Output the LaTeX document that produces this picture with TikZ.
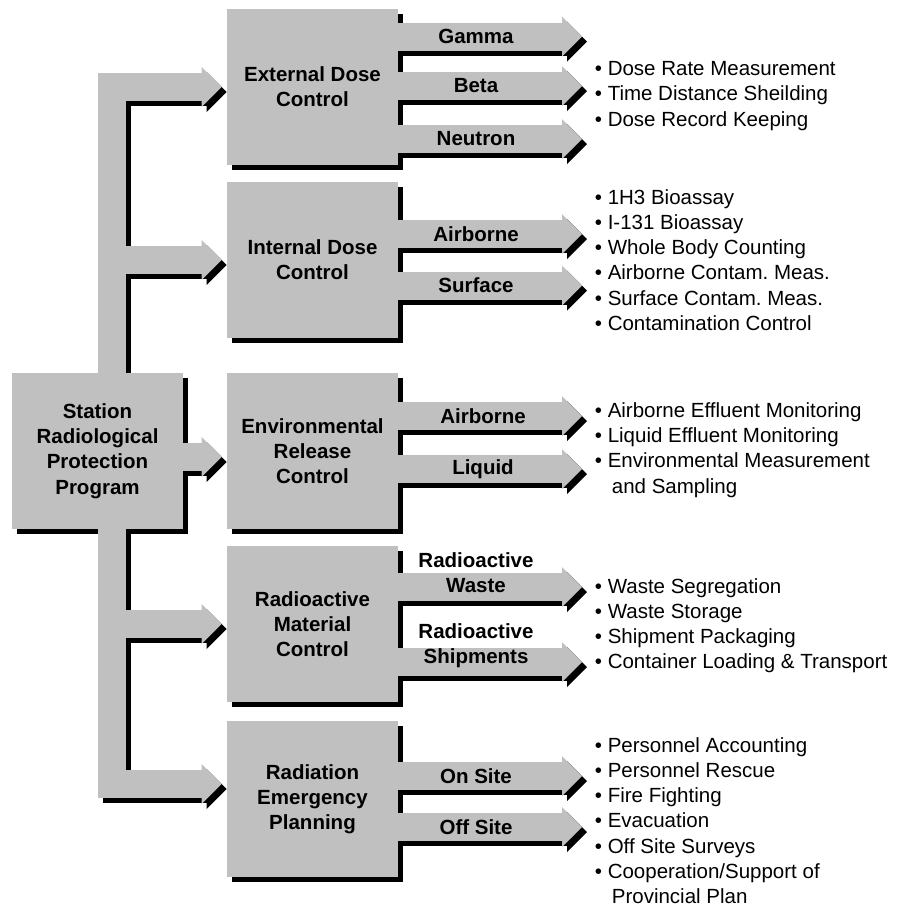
\documentclass[tikz,border=0pt]{standalone}
\usepackage{fontspec}
\setmainfont{Liberation Sans}
\usetikzlibrary{arrows.meta}

\definecolor{boxgray}{RGB}{192,192,192}
\newcommand{\chartfont}{\fontsize{10.25}{12.6}\selectfont\frenchspacing}

\pgfdeclarelayer{shadowlayer}
\pgfdeclarelayer{edgelayer}
\pgfdeclarelayer{nodelayer}
\pgfsetlayers{shadowlayer,edgelayer,nodelayer,main}
\tikzstyle{none}=[inner sep=0pt]
\tikzstyle{unit_box}=[rectangle,fill=boxgray,minimum width=85.5pt,minimum height=78pt,inner sep=0pt,align=center,font=\chartfont\bfseries]
\tikzstyle{box_shadow}=[fill=black]
\tikzstyle{flow_label}=[inner sep=0pt,align=center,font=\chartfont\bfseries]
\tikzstyle{item_list}=[inner sep=0pt,anchor=west,align=left,font=\chartfont]
\tikzstyle{flow}=[line width=14pt,->]
\tikzstyle{trunk}=[line width=14pt,<->,shorten <=2.5pt,shorten >=2.5pt]
\tikzset{>={Triangle[length=10pt,width=20pt,line width=0pt]}}

% connectors, drawn once as shadow and once in gray
\newcommand{\flowedges}{%
	\draw [style=trunk] (1.west) -- (6) -- (7) -- (5.west |- 7);
	\draw [style=flow, shorten >=2.5pt] (2.west -| 6) to (2.west);
	\draw [style=flow, shorten >=2.5pt] ([yshift=-3pt]0.east) to ([yshift=-3pt]3.west);
	\draw [style=flow, shorten >=2.5pt] (4.west -| 6) to (4.west);
	\draw [style=flow] (1.east |- 8) to (8);
	\draw [style=flow] (1.east |- 9) to (9);
	\draw [style=flow] (1.east |- 10) to (10);
	\draw [style=flow] (2.east |- 11) to (11);
	\draw [style=flow] (2.east |- 12) to (12);
	\draw [style=flow] (3.east |- 13) to (13);
	\draw [style=flow] (3.east |- 14) to (14);
	\draw [style=flow] (4.east |- 15) to (15);
	\draw [style=flow] (4.east |- 16) to (16);
	\draw [style=flow] (5.east |- 17) to (17);
	\draw [style=flow] (5.east |- 18) to (18);
}

\begin{document}
\begin{tikzpicture}[x=0.5pt,y=-0.5pt]
	\useasboundingbox (0, 0) rectangle (898, 907);
	\begin{pgfonlayer}{nodelayer}
		\node [style={unit_box}] (0) at (97.5, 451) {Station\\Radiological\\Protection\\Program};
		\node [style={unit_box}] (1) at (312.5, 87) {External Dose\\Control};
		\node [style={unit_box}] (2) at (312.5, 260) {Internal Dose\\Control};
		\node [style={unit_box}] (3) at (312.5, 451) {Environmental\\Release\\Control};
		\node [style={unit_box}] (4) at (312.5, 624) {Radioactive\\Material\\Control};
		\node [style={unit_box}] (5) at (312.5, 799) {Radiation\\Emergency\\Planning};
		\coordinate (6) at (112, 87);
		\coordinate (7) at (112, 784);
		\coordinate (8) at (582, 36.5);
		\coordinate (9) at (582, 86);
		\coordinate (10) at (582, 139);
		\coordinate (11) at (582, 234);
		\coordinate (12) at (582, 285.5);
		\coordinate (13) at (582, 416);
		\coordinate (14) at (582, 469);
		\coordinate (15) at (582, 587);
		\coordinate (16) at (582, 662);
		\coordinate (17) at (582, 776);
		\coordinate (18) at (582, 827);
	\end{pgfonlayer}
	\begin{pgfonlayer}{shadowlayer}
		\foreach \n in {0,...,5}
			\fill [style={box_shadow}] ([shift={(5, 5)}]\n.south west) rectangle ([shift={(5, 5)}]\n.north east);
		\begin{scope}[transform canvas={shift={(2.5pt, -2.5pt)}}, color=black]
			\flowedges
		\end{scope}
	\end{pgfonlayer}
	\begin{pgfonlayer}{edgelayer}
		\begin{scope}[color=boxgray]
			\flowedges
		\end{scope}
	\end{pgfonlayer}
	\node [style={flow_label}] (19) at (476, 36.5) {Gamma};
	\node [style={flow_label}] (20) at (476, 86) {Beta};
	\node [style={flow_label}] (21) at (476, 139) {Neutron};
	\node [style={flow_label}] (22) at (476, 234) {Airborne};
	\node [style={flow_label}] (23) at (476, 285.5) {Surface};
	\node [style={flow_label}] (24) at (483, 416) {Airborne};
	\node [style={flow_label}] (25) at (483, 469) {Liquid};
	\node [style={flow_label}] (26) at (476, 572.5) {Radioactive\\Waste};
	\node [style={flow_label}] (27) at (476, 646) {Radioactive\\Shipments};
	\node [style={flow_label}] (28) at (476, 776) {On Site};
	\node [style={flow_label}] (29) at (476, 827) {Off Site};
	\node [style={item_list}] (30) at (594.5, 96) {\textbullet\ Dose Rate Measurement\\\textbullet\ Time Distance Sheilding\\\textbullet\ Dose Record Keeping};
	\node [style={item_list}] (31) at (594.5, 260) {\textbullet\ 1H3 Bioassay\\\textbullet\ I-131 Bioassay\\\textbullet\ Whole Body Counting\\\textbullet\ Airborne Contam. Meas.\\\textbullet\ Surface Contam. Meas.\\\textbullet\ Contamination Control};
	\node [style={item_list}] (32) at (594.5, 450) {\textbullet\ Airborne Effluent Monitoring\\\textbullet\ Liquid Effluent Monitoring\\\textbullet\ Environmental Measurement\\\hspace*{8.5pt}and Sampling};
	\node [style={item_list}] (33) at (594.5, 625.5) {\textbullet\ Waste Segregation\\\textbullet\ Waste Storage\\\textbullet\ Shipment Packaging\\\textbullet\ Container Loading \& Transport};
	\node [style={item_list}] (34) at (594.5, 820.5) {\textbullet\ Personnel Accounting\\\textbullet\ Personnel Rescue\\\textbullet\ Fire Fighting\\\textbullet\ Evacuation\\\textbullet\ Off Site Surveys\\\textbullet\ Cooperation/Support of\\\hspace*{8.5pt}Provincial Plan};
\end{tikzpicture}
\end{document}
